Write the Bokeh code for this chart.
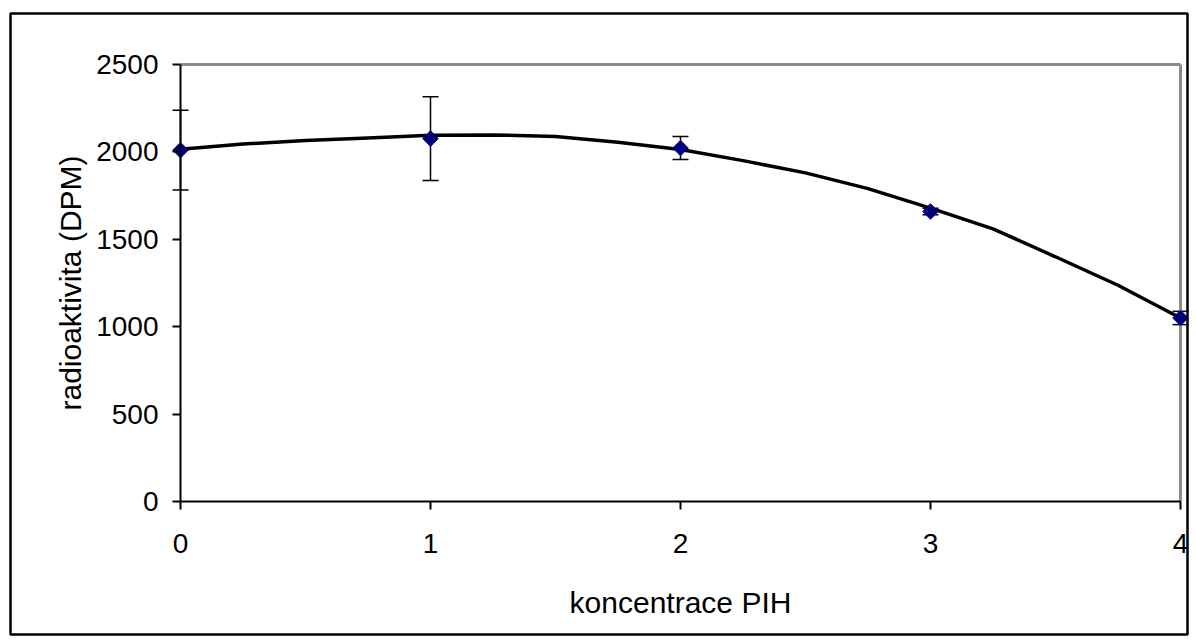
from bokeh.plotting import figure
from bokeh.models import (ColumnDataSource, Whisker, TeeHead, FixedTicker,
                          BoxAnnotation, Range1d)
from bokeh.embed import file_html
from bokeh.resources import INLINE

# ---- data ----
conc = [0, 1, 2, 3, 4]
dpm = [2010, 2076, 2022, 1659, 1050]
dpm_err = [228, 240, 66, 18, 38]

# trend line (polynomial trendline as drawn in the reference)
trend_x = [0, 0.25, 0.5, 0.75, 1.0, 1.25, 1.5, 1.75, 2.0, 2.25, 2.5, 2.75,
           3.0, 3.25, 3.5, 3.75, 4.0]
trend_y = [2015, 2045, 2065, 2080, 2095, 2097, 2088, 2055, 2014, 1950, 1880,
           1790, 1678, 1560, 1400, 1237, 1050]

x_ticks = [0, 1, 2, 3, 4]
y_ticks = [0, 500, 1000, 1500, 2000, 2500]
X_MIN, X_MAX = 0, 4
Y_MIN, Y_MAX = 0, 2500

FONT = "Liberation Sans"

# pixel geometry of the plotting area inside the 1196x643 canvas
W, H = 1196, 643
PL, PR, PT, PB = 180, 1180, 64, 501
sx = (PR - PL) / (X_MAX - X_MIN)
sy = (PB - PT) / (Y_MAX - Y_MIN)

p = figure(width=W, height=H, output_backend="svg", toolbar_location=None,
           x_range=Range1d(X_MIN - PL / sx, X_MIN + (W - PL) / sx),
           y_range=Range1d(Y_MIN - (H - PB) / sy, Y_MIN + PB / sy),
           min_border_left=0, min_border_right=0,
           min_border_top=0, min_border_bottom=0)
p.outline_line_color = None
p.grid.visible = False
p.background_fill_color = "white"
p.border_fill_color = "white"

# gray top/right border of the plot area
p.segment(x0=[X_MIN, X_MAX], y0=[Y_MAX, Y_MIN], x1=[X_MAX, X_MAX], y1=[Y_MAX, Y_MAX],
          line_color="#8c8c8c", line_width=3)

# axes
for ax in (p.xaxis[0], p.yaxis[0]):
    ax.axis_line_color = "black"
    ax.axis_line_width = 2
    ax.major_tick_line_color = "black"
    ax.major_tick_line_width = 2
    ax.major_tick_in = 0
    ax.major_tick_out = 8
    ax.minor_tick_line_color = None
    ax.major_label_text_font = FONT
    ax.major_label_text_font_size = "28px"
    ax.major_label_text_color = "black"
    ax.axis_label_text_font = FONT
    ax.axis_label_text_font_size = "30px"
    ax.axis_label_text_font_style = "normal"
    ax.axis_label_text_color = "black"

p.xaxis.fixed_location = Y_MIN
p.yaxis.fixed_location = X_MIN
p.xaxis.bounds = (X_MIN, X_MAX)
p.yaxis.bounds = (Y_MIN, Y_MAX)
p.xaxis.ticker = FixedTicker(ticks=x_ticks)
p.yaxis.ticker = FixedTicker(ticks=y_ticks)
p.xaxis.axis_label = "koncentrace PIH"
p.yaxis.axis_label = "radioaktivita (DPM)"
p.xaxis.major_label_standoff = 24
p.yaxis.major_label_standoff = 14
p.xaxis.axis_label_standoff = 30
p.yaxis.axis_label_standoff = 6

# trend line
p.line(trend_x, trend_y, line_color="black", line_width=3.5)

# error bars
src = ColumnDataSource(dict(
    x=conc, y=dpm,
    upper=[v + e for v, e in zip(dpm, dpm_err)],
    lower=[v - e for v, e in zip(dpm, dpm_err)],
))
wh = Whisker(base="x", upper="upper", lower="lower", source=src,
             line_color="black", line_width=1.5,
             upper_head=TeeHead(size=16, line_color="black", line_width=1.5),
             lower_head=TeeHead(size=16, line_color="black", line_width=1.5))
p.add_layout(wh)

# markers
p.scatter("x", "y", source=src, marker="square", angle=0.785398, size=11,
          fill_color="#000080", line_color="#000080")

# outer chart border
p.add_layout(BoxAnnotation(left=10, right=1187, top=13, bottom=634,
                           left_units="canvas", right_units="canvas",
                           top_units="canvas", bottom_units="canvas",
                           fill_alpha=0, line_color="black", line_alpha=1,
                           line_width=2.5, level="overlay"))

open("out.html", "w").write(file_html(p, INLINE))
